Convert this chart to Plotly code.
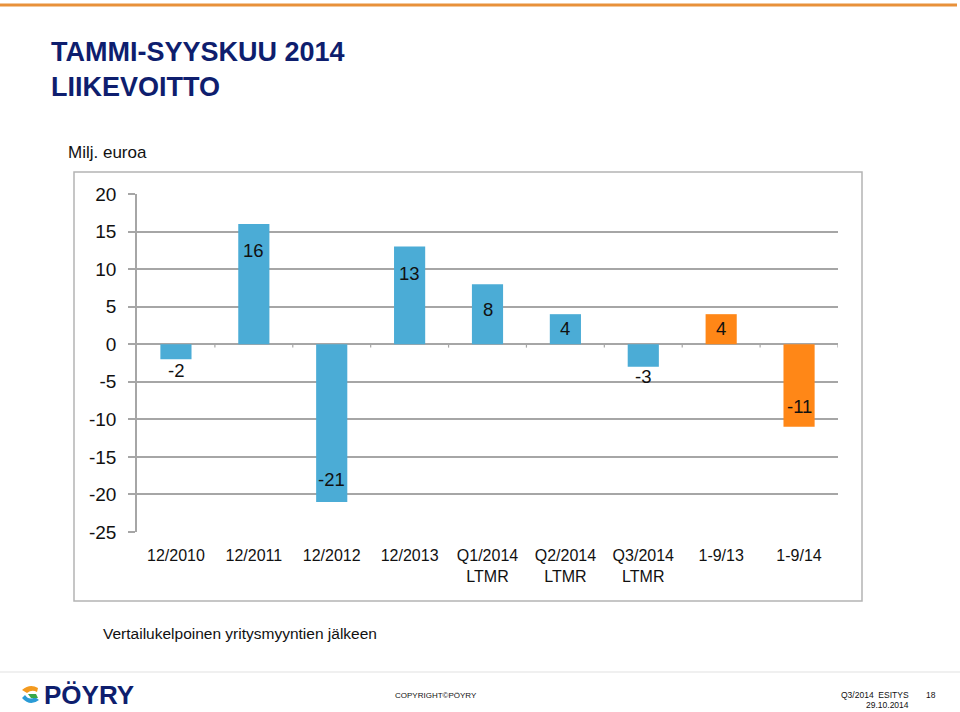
import plotly.graph_objects as go

categories = ["12/2010", "12/2011", "12/2012", "12/2013", "Q1/2014<br>LTMR",
              "Q2/2014<br>LTMR", "Q3/2014<br>LTMR", "1-9/13", "1-9/14"]
values = [-2, 16, -21, 13, 8, 4, -3, 4, -11]
y_ticks = [20, 15, 10, 5, 0, -5, -10, -15, -20, -25]

BLUE = "#4BACD6"
ORANGE = "#FF8717"
NAVY = "#0E1E6E"
GRID = "#A6A6A6"
colors = [BLUE] * 7 + [ORANGE] * 2
# vertical offset (px) of each data label from its bar end
label_shift = [-11, -26, 22, -27, -25, -14, -10, -14, 20]

W, H = 960, 712
L, R, T, B = 137, 838, 194, 532
FONT = "Liberation Sans, Arial, sans-serif"
NARROW = "Liberation Sans Narrow, Liberation Sans, Arial, sans-serif"


def px(x):
    return (x - L) / (R - L)


def py(y):
    return (B - y) / (B - T)


fig = go.Figure()
fig.add_trace(go.Bar(
    x=list(range(len(categories))), y=values,
    marker=dict(color=colors, line=dict(width=0)),
    width=0.4,
    hoverinfo="x+y",
))

shapes = []
# tick marks on zero line between categories
for k in range(len(categories)):
    shapes.append(dict(type="line", xref="x", yref="y", x0=k + 0.5, x1=k + 0.5,
                       y0=0, y1=-0.45, line=dict(color=GRID, width=1.2)))
# outer chart box
shapes.append(dict(type="rect", xref="paper", yref="paper",
                   x0=px(74), x1=px(862), y0=py(601), y1=py(172),
                   line=dict(color="#B4B4B4", width=1.5), layer="below"))
# top orange rule
shapes.append(dict(type="line", xref="paper", yref="paper",
                   x0=px(0), x1=px(957), y0=py(5), y1=py(5),
                   line=dict(color="#E8913A", width=3)))
# footer rule
shapes.append(dict(type="line", xref="paper", yref="paper",
                   x0=px(0), x1=px(960), y0=py(672), y1=py(672),
                   line=dict(color="#E2E2E2", width=1.2)))
# logo swirl (approximate)
shapes.append(dict(type="path", xref="paper", yref="paper",
                   path=f"M {px(38)} {py(688)} Q {px(30)} {py(683)} {px(22)} {py(690)} L {px(27)} {py(693)} Q {px(32)} {py(689)} {px(37)} {py(692)} Z",
                   fillcolor="#F39A1F", line=dict(width=0)))
shapes.append(dict(type="path", xref="paper", yref="paper",
                   path=f"M {px(22)} {py(698)} Q {px(30)} {py(707)} {px(39)} {py(700)} L {px(35)} {py(697)} Q {px(29)} {py(701)} {px(25)} {py(695)} Z",
                   fillcolor="#2A9BD6", line=dict(width=0)))
shapes.append(dict(type="path", xref="paper", yref="paper",
                   path=f"M {px(28)} {py(694)} L {px(36)} {py(694)} L {px(38)} {py(698)} L {px(31)} {py(698)} Z",
                   fillcolor="#39A84A", line=dict(width=0)))

ann = []
# data labels
for i, v in enumerate(values):
    ann.append(dict(text=str(v), x=i, y=v, xref="x", yref="y", yshift=label_shift[i],
                    xanchor="center", yanchor="middle", showarrow=False,
                    font=dict(family=FONT, size=18.5, color="#111111")))
ann.append(dict(text="<b>TAMMI-SYYSKUU 2014<br>LIIKEVOITTO</b>", xref="paper", yref="paper",
                x=px(49), y=py(35), xanchor="left", yanchor="top", align="left", showarrow=False,
                font=dict(family=FONT, size=27, color=NAVY)))
ann.append(dict(text="Milj. euroa", xref="paper", yref="paper", x=px(66), y=py(152),
                xanchor="left", yanchor="middle", showarrow=False,
                font=dict(family=FONT, size=17, color="#111111")))
ann.append(dict(text="Vertailukelpoinen yritysmyyntien jälkeen", xref="paper", yref="paper",
                x=px(101), y=py(633), xanchor="left", yanchor="middle", showarrow=False,
                font=dict(family=FONT, size=15.5, color="#111111")))
ann.append(dict(text="<b>PÖYRY</b>", xref="paper", yref="paper", x=px(42), y=py(695),
                xanchor="left", yanchor="middle", showarrow=False,
                font=dict(family=FONT, size=26, color=NAVY)))
ann.append(dict(text="COPYRIGHT©PÖYRY", xref="paper", yref="paper", x=px(436), y=py(695),
                xanchor="center", yanchor="middle", showarrow=False,
                font=dict(family=NARROW, size=8, color="#111111")))
ann.append(dict(text="Q3/2014  ESITYS", xref="paper", yref="paper", x=px(911), y=py(695),
                xanchor="right", yanchor="middle", showarrow=False,
                font=dict(family=NARROW, size=8.5, color="#111111")))
ann.append(dict(text="29.10.2014", xref="paper", yref="paper", x=px(911), y=py(705),
                xanchor="right", yanchor="middle", showarrow=False,
                font=dict(family=NARROW, size=8.5, color="#111111")))
ann.append(dict(text="18", xref="paper", yref="paper", x=px(931), y=py(695),
                xanchor="center", yanchor="middle", showarrow=False,
                font=dict(family=NARROW, size=8.5, color="#111111")))

fig.update_layout(
    width=W, height=H,
    margin=dict(l=L, r=W - R, t=T, b=H - B, pad=0),
    paper_bgcolor="white", plot_bgcolor="white",
    showlegend=False,
    shapes=shapes, annotations=ann,
)
fig.update_xaxes(
    range=[-0.5, len(categories) - 0.5],
    tickmode="array", tickvals=list(range(len(categories))), ticktext=categories,
    showgrid=False, zeroline=False, showline=False, ticks="",
    ticklabelstandoff=12,
    tickfont=dict(family=NARROW, size=16, color="#111111"),
    fixedrange=True,
)
fig.update_yaxes(
    range=[-25, 20], tickmode="array", tickvals=y_ticks,
    ticktext=[str(v) for v in y_ticks],
    showgrid=True, gridcolor=GRID, gridwidth=1.5,
    zeroline=True, zerolinecolor=GRID, zerolinewidth=1.5,
    showline=True, linecolor=GRID, linewidth=1.5,
    ticks="outside", ticklen=7, tickcolor=GRID, tickwidth=1.5,
    ticklabelstandoff=8,
    tickfont=dict(family=FONT, size=19, color="#111111"),
    fixedrange=True,
)

fig.write_html("out.html", config={"displayModeBar": False},
               post_script="document.body.style.margin='0px';")
